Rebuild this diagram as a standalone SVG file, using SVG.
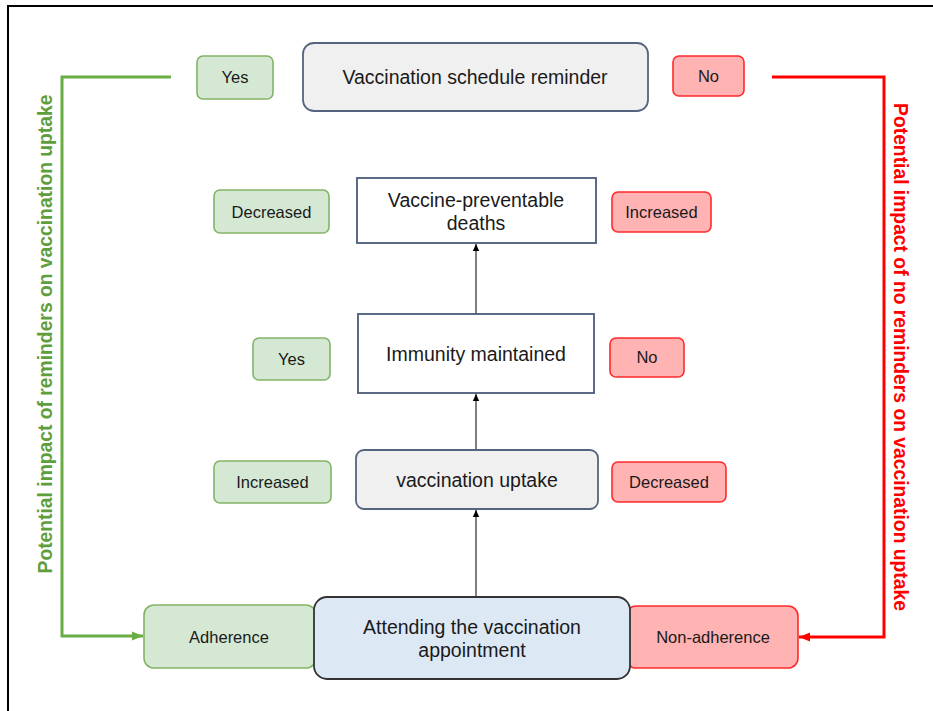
<svg xmlns="http://www.w3.org/2000/svg" width="933" height="711" viewBox="0 0 933 711">
<style>
text{font-family:"Liberation Sans",Arial,sans-serif;fill:#1a1a1a;text-anchor:middle}
.sm{font-size:16.5px}
.lg{font-size:19.5px}
.g rect{fill:#d5e8d4;stroke:#82b366;stroke-width:1.6}
.r rect{fill:#ffb3b3;stroke:#ff2a2a;stroke-width:1.6}
.side{font-size:19.3px;font-weight:bold}
</style>
<defs>
<marker id="ab" markerWidth="8" markerHeight="8" refX="7" refY="4" orient="auto" markerUnits="userSpaceOnUse"><path d="M0,0.8 L7,4 L0,7.2 Z" fill="#000"/></marker>
<marker id="ag" markerWidth="12" markerHeight="12" refX="11" refY="6" orient="auto" markerUnits="userSpaceOnUse"><path d="M0,1.5 L11,6 L0,10.5 Z" fill="#6aad45"/></marker>
<marker id="ar" markerWidth="12" markerHeight="12" refX="11" refY="6" orient="auto" markerUnits="userSpaceOnUse"><path d="M0,1.5 L11,6 L0,10.5 Z" fill="#ff0000"/></marker>
</defs>
<rect width="933" height="711" fill="#fff"/>
<path d="M8,711 V6 H933" fill="none" stroke="#000" stroke-width="2"/>
<g id="connectors" fill="none">
<path d="M171,77 H62 V636 H143" stroke="#6aad45" stroke-width="3" marker-end="url(#ag)"/>
<path d="M772,77 H884 V637 H799" stroke="#ff0000" stroke-width="3" marker-end="url(#ar)"/>
<path d="M476,597 V510" stroke="#000" stroke-width="1" marker-end="url(#ab)"/>
<path d="M476,450 V394" stroke="#000" stroke-width="1" marker-end="url(#ab)"/>
<path d="M476,314 V244" stroke="#000" stroke-width="1" marker-end="url(#ab)"/>
</g>
<text class="side" style="fill:#5f9e3c" transform="translate(52,334) rotate(-90)">Potential impact of reminders on vaccination uptake</text>
<text class="side" style="fill:#ff0000" transform="translate(894,357) rotate(90)">Potential impact of no reminders on vaccination uptake</text>
<g id="reminder"><rect x="303" y="43" width="345" height="68" rx="11" fill="#f0f0f0" stroke="#56657f" stroke-width="1.8"/><text class="lg" x="475" y="84">Vaccination schedule reminder</text></g>
<g id="yes-top" class="g"><rect x="197" y="56" width="76" height="43" rx="6"/><text class="sm" x="235" y="83">Yes</text></g>
<g id="no-top" class="r"><rect x="673" y="56" width="71" height="40" rx="6"/><text class="sm" x="708.5" y="82">No</text></g>
<g id="deaths"><rect x="357" y="178" width="239" height="65" fill="#fff" stroke="#4a5a78" stroke-width="1.8"/><text class="lg" x="476" y="207">Vaccine-preventable</text><text class="lg" x="476" y="230">deaths</text></g>
<g id="decreased-g" class="g"><rect x="214" y="190" width="115" height="43" rx="6"/><text class="sm" x="271.5" y="217.5">Decreased</text></g>
<g id="increased-r" class="r"><rect x="612" y="192" width="99" height="40" rx="6"/><text class="sm" x="661.5" y="218">Increased</text></g>
<g id="immunity"><rect x="358" y="314" width="236" height="79" fill="#fff" stroke="#4a5a78" stroke-width="1.8"/><text class="lg" x="476" y="361">Immunity maintained</text></g>
<g id="yes-mid" class="g"><rect x="253" y="338" width="77" height="42" rx="6"/><text class="sm" x="291.5" y="365">Yes</text></g>
<g id="no-mid" class="r"><rect x="610" y="338" width="74" height="39" rx="6"/><text class="sm" x="647" y="363">No</text></g>
<g id="uptake"><rect x="356" y="450" width="242" height="59" rx="8" fill="#f0f0f0" stroke="#56657f" stroke-width="1.8"/><text class="lg" x="477" y="486.5">vaccination uptake</text></g>
<g id="increased-g" class="g"><rect x="214" y="461" width="117" height="42" rx="6"/><text class="sm" x="272.5" y="488">Increased</text></g>
<g id="decreased-r" class="r"><rect x="612" y="462" width="114" height="40" rx="6"/><text class="sm" x="669" y="488">Decreased</text></g>
<g id="adherence" class="g"><rect x="144" y="605" width="172" height="63" rx="10"/><text class="sm" x="229" y="643">Adherence</text></g>
<g id="non-adherence" class="r"><rect x="626" y="606" width="172" height="62" rx="10"/><text class="sm" x="713" y="643">Non-adherence</text></g>
<g id="attending"><rect x="314" y="597" width="316" height="82" rx="13" fill="#dde8f5" stroke="#333" stroke-width="1.8"/><text class="lg" x="472" y="634">Attending the vaccination</text><text class="lg" x="472" y="657">appointment</text></g>
</svg>
